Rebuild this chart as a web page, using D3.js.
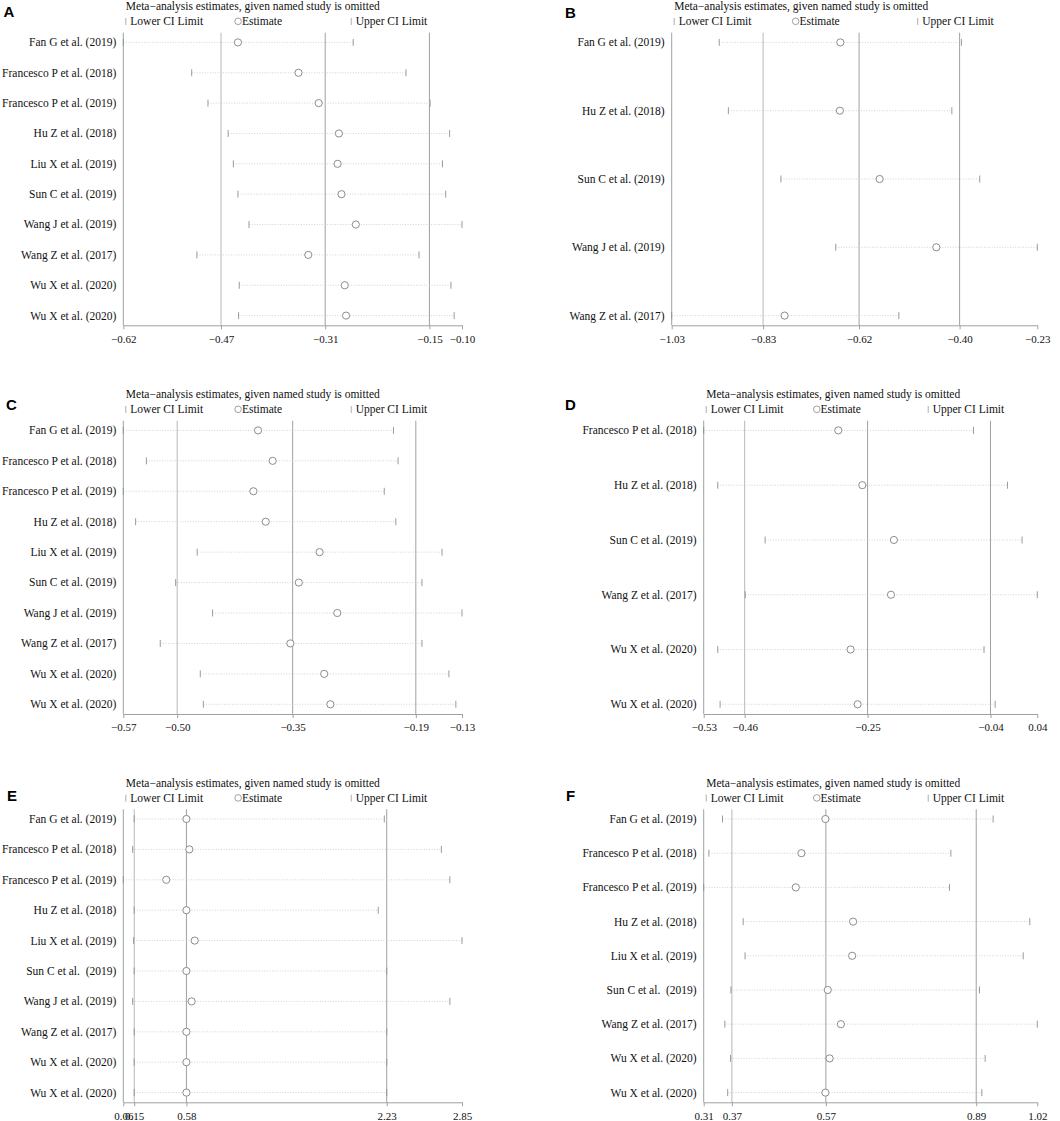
<!DOCTYPE html>
<html>
<head>
<meta charset="utf-8">
<script src="https://cdn.jsdelivr.net/npm/d3@7"></script>
<style>
  body { margin: 0; background: #fff; }
  svg { display: block; }
</style>
</head>
<body>
<div id="chart"></div>
<script>
// study labels
const studiesA = ["Fan G et al. (2019)", "Francesco P et al. (2018)", "Francesco P et al. (2019)", "Hu Z et al. (2018)",
  "Liu X et al. (2019)", "Sun C et al. (2019)", "Wang J et al. (2019)", "Wang Z et al. (2017)", "Wu X et al. (2020)", "Wu X et al. (2020)"];
const studiesB = ["Fan G et al. (2019)", "Hu Z et al. (2018)", "Sun C et al. (2019)", "Wang J et al. (2019)", "Wang Z et al. (2017)"];
const studiesC = studiesA;
const studiesD = ["Francesco P et al. (2018)", "Hu Z et al. (2018)", "Sun C et al. (2019)", "Wang Z et al. (2017)", "Wu X et al. (2020)", "Wu X et al. (2020)"];
const studiesE = ["Fan G et al. (2019)", "Francesco P et al. (2018)", "Francesco P et al. (2019)", "Hu Z et al. (2018)",
  "Liu X et al. (2019)", "Sun C et al.  (2019)", "Wang J et al. (2019)", "Wang Z et al. (2017)", "Wu X et al. (2020)", "Wu X et al. (2020)"];
const studiesF = ["Fan G et al. (2019)", "Francesco P et al. (2018)", "Francesco P et al. (2019)", "Hu Z et al. (2018)",
  "Liu X et al. (2019)", "Sun C et al.  (2019)", "Wang Z et al. (2017)", "Wu X et al. (2020)", "Wu X et al. (2020)"];

// estimates with one study omitted: lower CI, estimate, upper CI
const lowerA = [-0.62, -0.515, -0.490, -0.459, -0.451, -0.444, -0.427, -0.507, -0.442, -0.443];
const estA   = [-0.444, -0.351, -0.320, -0.289, -0.291, -0.285, -0.263, -0.336, -0.280, -0.278];
const upperA = [-0.267, -0.186, -0.149, -0.119, -0.130, -0.125, -0.100, -0.166, -0.117, -0.112];

const lowerB = [-0.926, -0.906, -0.791, -0.671, -1.03];
const estB   = [-0.661, -0.662, -0.575, -0.451, -0.783];
const upperB = [-0.396, -0.417, -0.356, -0.230, -0.533];

const lowerC = [-0.57, -0.540, -0.57, -0.554, -0.474, -0.502, -0.454, -0.522, -0.470, -0.466];
const estC   = [-0.395, -0.376, -0.401, -0.385, -0.315, -0.342, -0.292, -0.353, -0.309, -0.301];
const upperC = [-0.219, -0.213, -0.231, -0.216, -0.156, -0.182, -0.130, -0.182, -0.147, -0.138];

const lowerD = [-0.53, -0.506, -0.425, -0.459, -0.506, -0.502];
const estD   = [-0.300, -0.259, -0.205, -0.210, -0.279, -0.267];
const upperD = [-0.069, -0.011, 0.014, 0.040, -0.051, -0.032];

const lowerE = [0.15, 0.137, 0.06, 0.15, 0.145, 0.15, 0.137, 0.15, 0.15, 0.15];
const estE   = [0.58, 0.604, 0.414, 0.58, 0.648, 0.58, 0.623, 0.58, 0.58, 0.58];
const upperE = [2.21, 2.68, 2.75, 2.16, 2.85, 2.23, 2.75, 2.23, 2.23, 2.23];

const lowerF = [0.350, 0.321, 0.31, 0.394, 0.398, 0.368, 0.355, 0.367, 0.361];
const estF   = [0.569, 0.518, 0.506, 0.628, 0.626, 0.574, 0.602, 0.578, 0.569];
const upperF = [0.926, 0.836, 0.833, 1.004, 0.990, 0.897, 1.020, 0.909, 0.902];

// axis ticks (first and last are the axis ends, the middle three are the reference lines)
const ticksA = [-0.62, -0.47, -0.31, -0.15, -0.10];
const ticksB = [-1.03, -0.83, -0.62, -0.40, -0.23];
const ticksC = [-0.57, -0.50, -0.35, -0.19, -0.13];
const ticksD = [-0.53, -0.46, -0.25, -0.04, 0.04];
const ticksE = [0.06, 0.15, 0.58, 2.23, 2.85];
const ticksF = [0.31, 0.37, 0.57, 0.89, 1.02];

const titleText = "Meta\u2212analysis estimates, given named study is omitted";
const SERIF = "'Liberation Serif', 'Times New Roman', Times, serif";

const width = 1060;
const height = 1121;

const panels = [
  { letter: "A", lx: 3.5, ly: 17, left: 123.3, right: 462, top: 32.7, bottom: 325.3,
    studies: studiesA, lower: lowerA, est: estA, upper: upperA, ticks: ticksA },
  { letter: "B", lx: 565, ly: 18, left: 671.7, right: 1037.3, top: 32.7, bottom: 325.3,
    studies: studiesB, lower: lowerB, est: estB, upper: upperB, ticks: ticksB },
  { letter: "C", lx: 6, ly: 410, left: 123.3, right: 462, top: 420.7, bottom: 714,
    studies: studiesC, lower: lowerC, est: estC, upper: upperC, ticks: ticksC },
  { letter: "D", lx: 565, ly: 410, left: 703.7, right: 1037.3, top: 420.7, bottom: 714,
    studies: studiesD, lower: lowerD, est: estD, upper: upperD, ticks: ticksD },
  { letter: "E", lx: 7, ly: 801, left: 123.3, right: 462, top: 809.3, bottom: 1102.3,
    studies: studiesE, lower: lowerE, est: estE, upper: upperE, ticks: ticksE },
  { letter: "F", lx: 566, ly: 801, left: 703.7, right: 1037.3, top: 809.3, bottom: 1102.3,
    studies: studiesF, lower: lowerF, est: estF, upper: upperF, ticks: ticksF }
];

const svg = d3
  .select("#chart")
  .append("svg")
  .attr("width", width)
  .attr("height", height)
  .attr("viewBox", `0 0 ${width} ${height}`);

function drawPanel(p) {
  const g = svg.append("g").attr("class", "panel");
  const rows = p.studies.map((s, i) => ({
    i: i, name: s, lo: p.lower[i], est: p.est[i], hi: p.upper[i]
  }));

  const x = d3
    .scaleLinear()
    .domain([p.ticks[0], p.ticks[p.ticks.length - 1]])
    .range([p.left, p.right]);

  const y = d3
    .scalePoint()
    .domain(rows.map(d => d.i))
    .range([p.top + 9.7, p.bottom - 9.7]);

  const w = p.right - p.left;

  // panel letter
  g.append("text")
    .attr("x", p.lx)
    .attr("y", p.ly)
    .attr("font-family", "'Liberation Sans', Arial, sans-serif")
    .attr("font-weight", "bold")
    .attr("font-size", 15)
    .text(p.letter);

  // title + legend
  g.append("text")
    .attr("x", p.left + 2.5)
    .attr("y", p.top - 22.7)
    .attr("font-family", SERIF)
    .attr("font-size", 11.5)
    .attr("fill", "#111")
    .text(titleText);

  const legendY = p.top - 7.7;
  const legend = [
    { dx: 2.5, kind: "bar", label: "Lower CI Limit" },
    { dx: 0.339 * w, kind: "circle", label: "Estimate" },
    { dx: 0.673 * w, kind: "bar", label: "Upper CI Limit" }
  ];
  legend.forEach(l => {
    const lx = p.left + l.dx;
    if (l.kind === "bar") {
      g.append("line")
        .attr("x1", lx).attr("x2", lx)
        .attr("y1", legendY - 7).attr("y2", legendY)
        .attr("stroke", "#999").attr("stroke-width", 0.8);
    } else {
      g.append("circle")
        .attr("cx", lx).attr("cy", legendY - 3.7).attr("r", 3.3)
        .attr("fill", "none").attr("stroke", "#888").attr("stroke-width", 0.8);
    }
    g.append("text")
      .attr("x", lx + (l.kind === "bar" ? 4.5 : 3.8))
      .attr("y", legendY)
      .attr("font-family", SERIF)
      .attr("font-size", 11.5)
      .attr("fill", "#111")
      .text(l.label);
  });

  // reference lines at the inner ticks
  g.selectAll(".ref")
    .data(p.ticks.slice(1, -1))
    .enter()
    .append("line")
    .attr("class", "ref")
    .attr("x1", d => x(d)).attr("x2", d => x(d))
    .attr("y1", p.top).attr("y2", p.bottom)
    .attr("stroke", (d, i) => i === 0 ? "#b8b8b8" : "#a0a0a0")
    .attr("stroke-width", 1);

  // left axis line
  g.append("line")
    .attr("x1", p.left).attr("x2", p.left)
    .attr("y1", p.top).attr("y2", p.bottom)
    .attr("stroke", "#a0a0a0").attr("stroke-width", 1);

  // bottom axis
  const axis = g.append("g")
    .attr("transform", `translate(0,${p.bottom})`)
    .call(
      d3.axisBottom(x)
        .tickValues(p.ticks)
        .tickFormat(d3.format(".2f"))
        .tickSize(4)
        .tickSizeOuter(0)
    );
  axis.attr("font-family", SERIF).attr("font-size", 11);
  axis.select(".domain").attr("stroke", "#a0a0a0");
  axis.selectAll(".tick line").attr("stroke", "#a0a0a0");
  axis.selectAll(".tick text").attr("fill", "#111").attr("dy", "0.95em");

  // dotted CI lines
  g.selectAll(".ci")
    .data(rows)
    .enter()
    .append("line")
    .attr("class", "ci")
    .attr("x1", d => x(d.lo)).attr("x2", d => x(d.hi))
    .attr("y1", d => y(d.i)).attr("y2", d => y(d.i))
    .attr("stroke", "#c8c8c8")
    .attr("stroke-width", 0.8)
    .attr("stroke-dasharray", "1,1.6");

  // CI end ticks
  ["lo", "hi"].forEach(k => {
    g.selectAll(".end-" + k)
      .data(rows)
      .enter()
      .append("line")
      .attr("class", "end-" + k)
      .attr("x1", d => x(d[k])).attr("x2", d => x(d[k]))
      .attr("y1", d => y(d.i) - 3.5).attr("y2", d => y(d.i) + 3.5)
      .attr("stroke", "#909090")
      .attr("stroke-width", 0.9);
  });

  // estimates
  g.selectAll(".est")
    .data(rows)
    .enter()
    .append("circle")
    .attr("class", "est")
    .attr("cx", d => x(d.est))
    .attr("cy", d => y(d.i))
    .attr("r", 3.6)
    .attr("fill", "#fff")
    .attr("stroke", "#808080")
    .attr("stroke-width", 0.9);

  // study labels
  g.selectAll(".lab")
    .data(rows)
    .enter()
    .append("text")
    .attr("class", "lab")
    .attr("x", p.left - 7)
    .attr("y", d => y(d.i))
    .attr("dy", "0.34em")
    .attr("text-anchor", "end")
    .attr("font-family", SERIF)
    .attr("font-size", 11.5)
    .attr("fill", "#111")
    .style("white-space", "pre")
    .text(d => d.name);
}

panels.forEach(drawPanel);
</script>
</body>
</html>
